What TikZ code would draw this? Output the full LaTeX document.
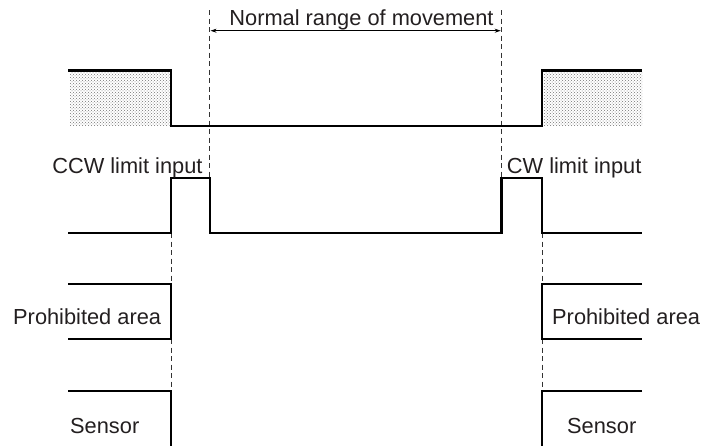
\documentclass[tikz,border=0pt]{standalone}
\usepackage{fontspec}
\setmainfont{Liberation Sans}
\usetikzlibrary{patterns,arrows.meta}
\definecolor{txt}{HTML}{231F20}
\begin{document}
\begin{tikzpicture}[x=1pt,y=-1pt,
  wave/.style={line width=2.6pt,line join=miter,line cap=butt},
  guide/.style={line width=0.9pt,draw=black!80,dash pattern=on 5pt off 3.5pt},
  shade/.style={pattern=crosshatch dots,pattern color=black!55},
  lbl/.style={inner sep=0pt,text=txt,font=\fontsize{21.8}{26}\selectfont}]
\useasboundingbox (0,0) rectangle (701,445);
% shaded prohibited zones
\fill[shade] (70,72.5) rectangle (169.5,125);
\fill[shade] (543.5,72.5) rectangle (642,125);
% guides
\draw[guide] (209.5,10) -- (209.5,178);
\draw[guide] (501.7,10) -- (501.7,178);
\draw[guide] (171,233) -- (171,284);
\draw[guide] (171,339) -- (171,391);
\draw[guide] (542,233) -- (542,284);
\draw[guide] (542,339) -- (542,391);
% range arrow
\coordinate (rl) at (210.5,30.7);
\coordinate (rr) at (500.7,30.7);
\draw[line width=0.9pt,{Stealth[length=6pt,width=4pt]}-{Stealth[length=6pt,width=4pt]}] (rl) -- (rr);
\node[lbl,anchor=base] (normal) at (361.5,25) {Normal range of movement};
% top waveform
\draw[wave] (68,70.5) -- (171,70.5) -- (171,126) -- (542,126) -- (542,70.5) -- (642,70.5);
% limit inputs
\draw[wave] (68,233) -- (171,233) -- (171,178) -- (210,178) -- (210,233) -- (501.7,233) -- (501.7,178) -- (542,178) -- (542,233) -- (642,233);
\node[lbl,anchor=base east] (ccw) at (202.7,173) {CCW limit input};
\node[lbl,anchor=base west] (cw) at (506.7,173) {CW limit input};
% prohibited area
\draw[wave] (68,284) -- (171,284) -- (171,339) -- (68,339);
\draw[wave] (642,284) -- (542,284) -- (542,339) -- (642,339);
\node[lbl,anchor=base west] (pl) at (13,324) {Prohibited area};
\node[lbl,anchor=base west] (pr) at (552,324) {Prohibited area};
% sensor
\draw[wave] (68,391) -- (171,391) -- (171,446);
\draw[wave] (642,391) -- (542,391) -- (542,446);
\node[lbl,anchor=base west] (sl) at (70,433) {Sensor};
\node[lbl,anchor=base west] (sr) at (567,433) {Sensor};
\end{tikzpicture}
\end{document}
